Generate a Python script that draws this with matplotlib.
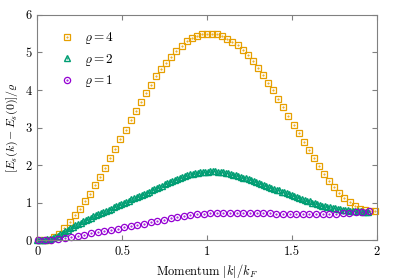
import numpy as np
import matplotlib
matplotlib.use('Agg')
import matplotlib.pyplot as plt

# Dane odczytane z wykresu
# rho = 4 (kwadraty), krok 0.03
k_rho4 = np.linspace(0.01, 1.99, 67)
E_rho4 = [0.00, 0.00, 0.02, 0.08, 0.18, 0.32, 0.49, 0.67, 0.84, 1.04,
          1.24, 1.47, 1.69, 1.93, 2.18, 2.44, 2.69, 2.95, 3.20, 3.44,
          3.69, 3.93, 4.14, 4.36, 4.56, 4.73, 4.89, 5.04, 5.18, 5.29,
          5.37, 5.44, 5.48, 5.50, 5.50, 5.48, 5.43, 5.36, 5.28, 5.19,
          5.06, 4.92, 4.76, 4.58, 4.40, 4.20, 3.99, 3.77, 3.55, 3.31,
          3.08, 2.85, 2.62, 2.40, 2.19, 1.98, 1.77, 1.59, 1.42, 1.27,
          1.14, 1.02, 0.92, 0.85, 0.81, 0.79, 0.79]

# rho = 2 (trojkaty), krok 0.015
k_rho2 = np.linspace(0.0, 1.95, 131)
E_rho2 = [0.00, 0.00, 0.01, 0.02, 0.03, 0.05, 0.07, 0.09, 0.12, 0.16,
          0.20, 0.24, 0.28, 0.32, 0.36, 0.40, 0.44, 0.47, 0.51, 0.54,
          0.57, 0.60, 0.64, 0.67, 0.70, 0.73, 0.76, 0.79, 0.82, 0.85,
          0.88, 0.91, 0.94, 0.97, 1.00, 1.03, 1.06, 1.09, 1.12, 1.15,
          1.18, 1.21, 1.24, 1.27, 1.30, 1.33, 1.36, 1.39, 1.42, 1.46,
          1.49, 1.52, 1.55, 1.58, 1.61, 1.64, 1.67, 1.69, 1.72, 1.74,
          1.76, 1.77, 1.79, 1.80, 1.81, 1.82, 1.83, 1.83, 1.84, 1.84,
          1.84, 1.83, 1.82, 1.81, 1.80, 1.79, 1.77, 1.75, 1.73, 1.71,
          1.69, 1.67, 1.65, 1.63, 1.60, 1.58, 1.56, 1.53, 1.51, 1.48,
          1.45, 1.43, 1.40, 1.38, 1.35, 1.33, 1.30, 1.28, 1.25, 1.23,
          1.20, 1.18, 1.15, 1.13, 1.10, 1.08, 1.06, 1.04, 1.01, 0.99,
          0.97, 0.95, 0.93, 0.91, 0.90, 0.88, 0.87, 0.86, 0.84, 0.83,
          0.82, 0.81, 0.80, 0.79, 0.79, 0.78, 0.78, 0.78, 0.77, 0.77,
          0.77]

# rho = 1 (kolka), krok ~0.039
k_rho1 = np.linspace(0.005, 1.955, 51)
E_rho1 = [0.00, 0.01, 0.02, 0.04, 0.06, 0.09, 0.12, 0.15, 0.19, 0.22,
          0.25, 0.28, 0.31, 0.35, 0.38, 0.42, 0.45, 0.48, 0.51, 0.55,
          0.59, 0.62, 0.65, 0.68, 0.70, 0.71, 0.72, 0.73, 0.73, 0.73,
          0.73, 0.73, 0.73, 0.72, 0.72, 0.72, 0.71, 0.71, 0.71, 0.70,
          0.70, 0.70, 0.70, 0.70, 0.71, 0.71, 0.72, 0.73, 0.75, 0.76,
          0.78]

labels = [r'$\varrho = 4$', r'$\varrho = 2$', r'$\varrho = 1$']
colors = ['#E69F00', '#009E73', '#9400D3']

x_ticks = [0, 0.5, 1, 1.5, 2]
x_tick_labels = ['0', '0.5', '1', '1.5', '2']
y_ticks = [0, 1, 2, 3, 4, 5, 6]

plt.rcParams['font.family'] = 'serif'
plt.rcParams['font.serif'] = ['cmr10']
plt.rcParams['mathtext.fontset'] = 'cm'
plt.rcParams['axes.unicode_minus'] = False

fig = plt.figure(figsize=(3.99, 2.79), dpi=100)
ax = fig.add_axes([0.0935, 0.138, 0.8505, 0.809])

handles = []
series = [(k_rho4, E_rho4, 's', 4.4, 0.9), (k_rho2, E_rho2, '^', 3.9, 1.0),
          (k_rho1, E_rho1, 'o', 4.5, 0.9)]
for (k, E, m, ms, mew), c in zip(series, colors):
    h1, = ax.plot(k, E, linestyle='none', marker=m, markersize=ms, markerfacecolor='none',
                  markeredgecolor=c, markeredgewidth=mew, clip_on=False)
    h2, = ax.plot(k, E, linestyle='none', marker='.', markersize=1.0, color=c, clip_on=False)
    handles.append((h1, h2))

ax.legend(handles, labels, loc='upper left', frameon=False, fontsize=9.5,
          handlelength=1.0, handletextpad=0.8, labelspacing=0.42,
          borderaxespad=0.6, bbox_to_anchor=(0.03, 0.99))

ax.set_xlim(0, 2)
ax.set_ylim(0, 6)
ax.set_xticks(x_ticks)
ax.set_xticklabels(x_tick_labels)
ax.set_yticks(y_ticks)

for s in ax.spines.values():
    s.set_color('#808080')
    s.set_linewidth(0.8)
ax.tick_params(direction='in', length=3.5, width=0.8, color='#808080',
               top=True, right=True, labelsize=9, pad=4)

ax.set_xlabel(r'Momentum $|k|/k_F$', fontsize=9, labelpad=3)
ax.set_ylabel(r'$[E_s(k) - E_s(0)]/\varrho$', fontsize=8.5, labelpad=4)

fig.savefig('out.png', dpi=100)
